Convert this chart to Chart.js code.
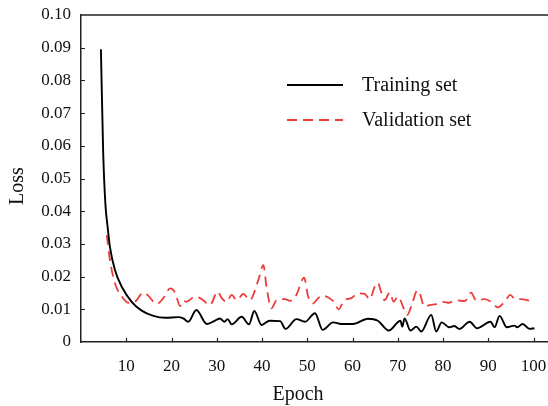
<!DOCTYPE html>
<html>
<head>
<meta charset="utf-8">
<script src="https://cdn.jsdelivr.net/npm/chart.js@4.4.1/dist/chart.umd.min.js"></script>
<style>
  html, body { margin: 0; padding: 0; background: #fff; }
  canvas { display: block; }
</style>
</head>
<body>
<canvas id="lossChart" width="548" height="406"></canvas>
<script>
// values
const trainEpoch = [4.4, 4.9, 5.4, 5.9, 6.4, 7.5, 9.0, 11.2, 13.4, 16.0, 18.6, 21.5, 22.6, 23.7, 25.5, 27.8, 29.2, 30.7, 31.7, 32.4, 33.3, 35.5, 37.1, 38.3, 39.9, 41.7, 44.0, 45.2, 47.6, 49.5, 51.7, 53.4, 55.7, 57.5, 60.1, 63.4, 65.6, 68.0, 70.6, 71.0, 71.5, 72.8, 74.1, 75.2, 77.4, 78.5, 79.7, 81.4, 82.5, 83.6, 85.9, 87.5, 90.5, 91.4, 92.5, 94.1, 95.8, 96.4, 97.6, 99.1, 100.2];
const trainLoss = [0.0895, 0.058, 0.042, 0.035, 0.029, 0.022, 0.0169, 0.0123, 0.0096, 0.0080, 0.0074, 0.0076, 0.0072, 0.0062, 0.0098, 0.0055, 0.0062, 0.0072, 0.0062, 0.0070, 0.0054, 0.0077, 0.0054, 0.0095, 0.0052, 0.0065, 0.0064, 0.0040, 0.0070, 0.0062, 0.0088, 0.0037, 0.0060, 0.0055, 0.0055, 0.0071, 0.0065, 0.0035, 0.0065, 0.0047, 0.0072, 0.0035, 0.0047, 0.0032, 0.0083, 0.0032, 0.0060, 0.0045, 0.0049, 0.0040, 0.0062, 0.0042, 0.0062, 0.0045, 0.0080, 0.0045, 0.0050, 0.0045, 0.0055, 0.0040, 0.0042];

const valEpoch = [5.7, 6.4, 7.5, 9.0, 10.5, 11.9, 13.8, 14.9, 16.7, 18.2, 19.7, 20.8, 21.9, 22.6, 23.3, 25.2, 26.7, 28.5, 30.2, 31.1, 32.2, 33.3, 34.4, 35.9, 37.3, 39.2, 40.3, 41.0, 42.1, 43.2, 45.1, 46.2, 47.6, 49.3, 50.2, 51.3, 52.4, 53.3, 54.9, 55.9, 56.9, 58.2, 59.7, 61.2, 62.7, 63.8, 64.9, 65.6, 66.3, 67.1, 68.2, 69.1, 70.0, 70.6, 71.3, 72.1, 73.2, 74.3, 74.8, 75.9, 77.0, 78.5, 80.0, 81.4, 82.7, 84.8, 86.2, 87.3, 89.2, 90.6, 92.1, 93.6, 94.9, 95.9, 97.3, 99.1];
const valLoss = [0.0327, 0.025, 0.018, 0.0139, 0.0120, 0.0123, 0.0151, 0.0141, 0.0116, 0.0134, 0.0164, 0.0151, 0.0110, 0.0126, 0.0123, 0.0139, 0.0131, 0.0113, 0.0154, 0.0134, 0.0123, 0.0144, 0.0128, 0.0147, 0.0128, 0.0190, 0.0235, 0.0169, 0.0103, 0.0128, 0.0131, 0.0126, 0.0144, 0.0197, 0.0139, 0.0118, 0.0134, 0.0142, 0.0134, 0.0123, 0.0100, 0.0128, 0.0134, 0.0149, 0.0147, 0.0131, 0.0169, 0.0181, 0.0154, 0.0128, 0.0151, 0.0123, 0.0139, 0.0128, 0.0103, 0.0083, 0.0118, 0.0157, 0.0151, 0.0108, 0.0113, 0.0116, 0.0123, 0.0120, 0.0128, 0.0125, 0.0151, 0.0128, 0.0131, 0.0123, 0.0106, 0.0123, 0.0144, 0.0131, 0.0131, 0.0126];

const xTicks = [10, 20, 30, 40, 50, 60, 70, 80, 90, 100];
const yTicks = [0, 0.01, 0.02, 0.03, 0.04, 0.05, 0.06, 0.07, 0.08, 0.09, 0.10];
const yTickLabels = ['0', '0.01', '0.02', '0.03', '0.04', '0.05', '0.06', '0.07', '0.08', '0.09', '0.10'];

const seriesNames = ['Training set', 'Validation set'];
const xTitle = 'Epoch';
const yTitle = 'Loss';

const FONT = "'Liberation Serif', 'Times New Roman', serif";
const RED = '#ee3b3b';

// inside tick marks, top frame line, axis titles and legend
const decorations = {
  id: 'decorations',
  afterDraw(chart) {
    const ctx = chart.ctx;
    const area = chart.chartArea;
    const xs = chart.scales.x;
    const ys = chart.scales.y;
    ctx.save();
    ctx.strokeStyle = '#222';
    ctx.lineWidth = 1.2;
    ctx.beginPath();
    xTicks.forEach(v => {
      const px = Math.round(xs.getPixelForValue(v)) + 0.5;
      ctx.moveTo(px, area.bottom);
      ctx.lineTo(px, area.bottom - 4);
    });
    yTicks.slice(1, -1).forEach(v => {
      const py = Math.round(ys.getPixelForValue(v)) + 0.5;
      ctx.moveTo(area.left, py);
      ctx.lineTo(area.left + 4, py);
    });
    ctx.stroke();

    // top frame line
    ctx.lineWidth = 1.5;
    ctx.beginPath();
    ctx.moveTo(area.left, area.top);
    ctx.lineTo(area.right, area.top);
    ctx.stroke();

    // axis titles
    ctx.fillStyle = '#111';
    ctx.font = '20px ' + FONT;
    ctx.textAlign = 'center';
    ctx.textBaseline = 'middle';
    ctx.fillText(xTitle, 298, 395);
    ctx.translate(18, 186);
    ctx.rotate(-Math.PI / 2);
    ctx.fillText(yTitle, 0, 0);
    ctx.restore();

    // legend
    ctx.save();
    const rows = [85, 120];
    chart.data.datasets.forEach((ds, i) => {
      ctx.strokeStyle = ds.borderColor;
      ctx.lineWidth = ds.borderWidth;
      ctx.setLineDash(ds.borderDash || []);
      ctx.beginPath();
      ctx.moveTo(287, rows[i]);
      ctx.lineTo(343, rows[i]);
      ctx.stroke();
      ctx.setLineDash([]);
      ctx.fillStyle = '#111';
      ctx.font = '20px ' + FONT;
      ctx.textAlign = 'left';
      ctx.textBaseline = 'middle';
      ctx.fillText(ds.label, 362, rows[i] + 1);
    });
    ctx.restore();
  }
};

new Chart(document.getElementById('lossChart').getContext('2d'), {
  type: 'line',
  data: {
    datasets: [{
      label: seriesNames[0],
      data: trainEpoch.map((e, i) => ({ x: e, y: trainLoss[i] })),
      borderColor: '#000',
      borderWidth: 1.9,
      pointRadius: 0,
      cubicInterpolationMode: 'monotone',
      fill: false
    }, {
      label: seriesNames[1],
      data: valEpoch.map((e, i) => ({ x: e, y: valLoss[i] })),
      borderColor: RED,
      borderWidth: 1.8,
      borderDash: [10, 6],
      pointRadius: 0,
      cubicInterpolationMode: 'monotone',
      fill: false
    }]
  },
  options: {
    responsive: false,
    animation: false,
    layout: { padding: { left: 0, top: 15, right: 0, bottom: 0 } },
    plugins: {
      legend: { display: false },
      tooltip: { enabled: false }
    },
    scales: {
      x: {
        type: 'linear',
        min: 0,
        max: 103.2,
        afterBuildTicks: scale => { scale.ticks = xTicks.map(v => ({ value: v })); },
        afterFit: scale => {
          scale.height = 64;
          scale.paddingLeft = 0;
          scale.paddingRight = 0;
        },
        grid: { display: false, drawTicks: false },
        border: { display: true, color: '#222', width: 1.5 },
        ticks: {
          padding: 14,
          color: '#111',
          font: { family: FONT, size: 17 },
          maxRotation: 0,
          autoSkip: false,
          callback: v => String(v)
        }
      },
      y: {
        min: 0,
        max: 0.1,
        afterBuildTicks: scale => { scale.ticks = yTicks.map(v => ({ value: v })); },
        afterFit: scale => {
          scale.width = 81;
          scale.paddingTop = 0;
          scale.paddingBottom = 0;
        },
        grid: { display: false, drawTicks: false },
        border: { display: true, color: '#222', width: 1.5 },
        ticks: {
          padding: 10,
          color: '#111',
          font: { family: FONT, size: 17 },
          autoSkip: false,
          callback: (v, i) => yTickLabels[i]
        }
      }
    }
  },
  plugins: [decorations]
});
</script>
</body>
</html>
